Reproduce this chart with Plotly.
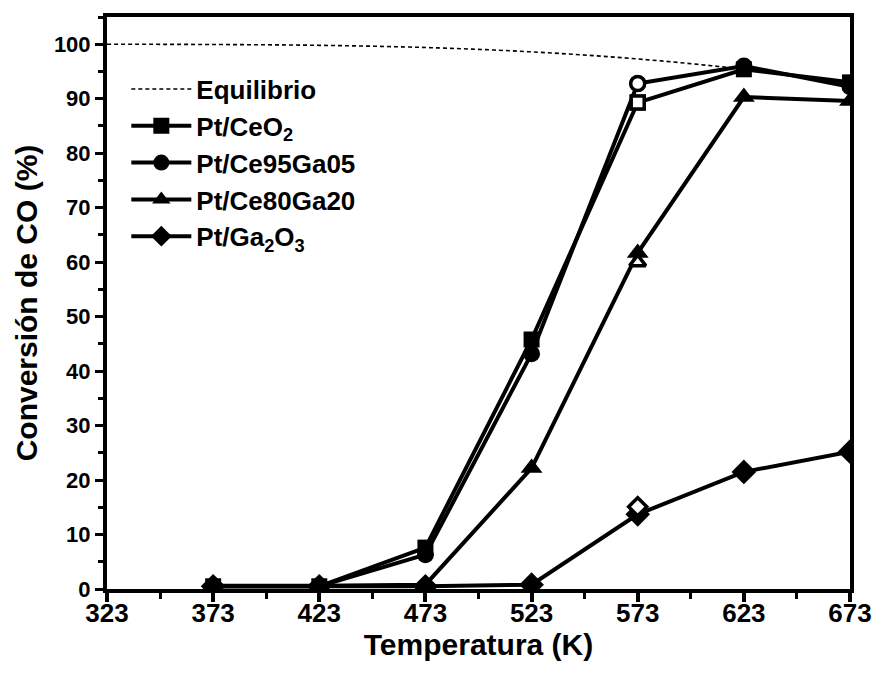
import plotly.graph_objects as go

# Temperatures (K) and CO conversion (%) per catalyst
temps = [373, 423, 473, 523, 573, 623, 673]
ceo2 = [0.5, 0.5, 7.6, 45.8, 89.3, 95.4, 93.0]
ce95ga05 = [0.5, 0.5, 6.3, 43.2, 92.8, 96.0, 92.2]
ce80ga20 = [0.6, 0.6, 0.8, 22.2, 61.7, 90.3, 89.6]
ga2o3 = [0.5, 0.5, 0.5, 0.8, 13.7, 21.5, 25.2]

# Repeat measurement at 573 K (open symbols)
repeat_temp = [573]
repeat_ceo2 = [89.3]
repeat_ce95ga05 = [92.8]
repeat_ce80ga20 = [60.0]
repeat_ga2o3 = [15.1]

# Thermodynamic equilibrium curve
eq_temps = [323, 373, 423, 473, 523, 573, 623, 673]
eq_conv = [100.0, 99.95, 99.8, 99.4, 98.6, 97.3, 95.4, 92.7]

x_ticks = [323, 373, 423, 473, 523, 573, 623, 673]
y_ticks = [0, 10, 20, 30, 40, 50, 60, 70, 80, 90, 100]

FONT = "Liberation Sans, Arial, sans-serif"
NARROW = "Liberation Sans Narrow, Arial Narrow, Liberation Sans, sans-serif"

fig = go.Figure()

fig.add_trace(go.Scatter(
    x=eq_temps, y=eq_conv, mode="lines", name="Equilibrio",
    line=dict(color="black", width=1.6, dash="4px,3px", shape="spline"),
))

series = [
    ("Pt/CeO<sub>2</sub>", ceo2, "square", 16),
    ("Pt/Ce95Ga05", ce95ga05, "circle", 17),
    ("Pt/Ce80Ga20", ce80ga20, "triangle-up", 19),
    ("Pt/Ga<sub>2</sub>O<sub>3</sub>", ga2o3, "diamond", 19),
]
for name, vals, sym, size in series:
    fig.add_trace(go.Scatter(
        x=temps, y=vals, mode="lines+markers", name=name,
        line=dict(color="black", width=4),
        marker=dict(symbol=sym, size=size, color="black",
                    line=dict(color="black", width=0)),
    ))

repeats = [
    (repeat_ceo2, "square", 13),
    (repeat_ce95ga05, "circle", 14),
    (repeat_ce80ga20, "triangle-up", 14),
    (repeat_ga2o3, "diamond", 14),
]
for vals, sym, size in repeats:
    fig.add_trace(go.Scatter(
        x=repeat_temp, y=vals, mode="markers", showlegend=False,
        marker=dict(symbol=sym, size=size, color="white",
                    line=dict(color="black", width=3.5)),
    ))

fig.update_layout(
    width=880, height=675,
    margin=dict(l=107, r=30, t=17, b=86),
    paper_bgcolor="white", plot_bgcolor="white",
    font=dict(family=FONT, color="black", weight="bold"),
    showlegend=True,
    legend=dict(
        x=0.026, y=0.915, xanchor="left", yanchor="top",
        bgcolor="rgba(0,0,0,0)", itemwidth=60, tracegroupgap=0,
        font=dict(family=FONT, size=26, color="black", weight="bold"),
    ),
    xaxis=dict(
        range=[323, 673], tickvals=x_ticks, ticktext=[str(v) for v in x_ticks],
        showline=True, linecolor="black", linewidth=4, mirror=True,
        ticks="outside", ticklen=9, tickwidth=4, tickcolor="black",
        ticklabelstandoff=-11,
        minor=dict(dtick=25, tick0=323, ticks="outside", ticklen=6,
                   tickwidth=3, tickcolor="black"),
        showgrid=False, zeroline=False, automargin=False,
        tickfont=dict(family=NARROW, size=26, weight="bold"),
        title=dict(text="Temperatura (K)", standoff=6,
                   font=dict(family=FONT, size=30, weight="bold")),
    ),
    yaxis=dict(
        range=[0, 105], tickvals=y_ticks,
        showline=True, linecolor="black", linewidth=4, mirror=True,
        ticks="outside", ticklen=8, tickwidth=3, tickcolor="black",
        minor=dict(dtick=5, tick0=0, ticks="outside", ticklen=5,
                   tickwidth=3, tickcolor="black"),
        showgrid=False, zeroline=False, automargin=False,
        tickfont=dict(family=FONT, size=22, weight="bold"),
        title=dict(text="Conversión de CO (%)", standoff=8,
                   font=dict(family=FONT, size=30, weight="bold")),
    ),
)

fig.write_html("out.html")
